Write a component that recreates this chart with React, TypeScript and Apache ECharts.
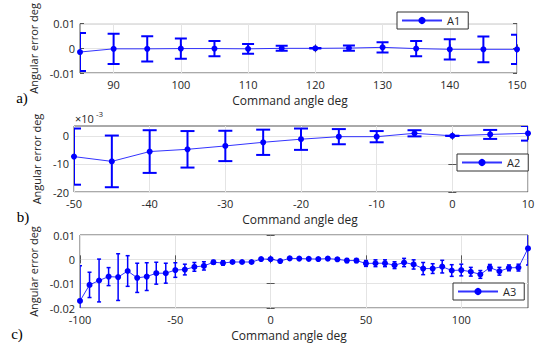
import React, { useEffect, useRef } from "react";
import * as echarts from "echarts";

// ---- Panel a) ----
const xA = [85, 90, 95, 100, 105, 110, 115, 120, 125, 130, 135, 140, 145, 150];
const yA = [-0.0015, -0.0002, -0.0002, -0.0001, -0.0001, -0.0002, 0, 0, 0.0001, 0.0004, -0.0001, -0.0004, -0.0004, -0.0004];
const eA = [0.0077, 0.0061, 0.0051, 0.0041, 0.0031, 0.002, 0.001, 0.0001, 0.0011, 0.0021, 0.0031, 0.0041, 0.0052, 0.0059];
const xTicksA = [90, 100, 110, 120, 130, 140, 150];
const yTicksA = [-0.01, 0, 0.01];

// ---- Panel b) (values in units of 1e-3 deg) ----
const xB = [-50, -45, -40, -35, -30, -25, -20, -15, -10, -5, 0, 5, 10];
const yB = [-7.4, -9.1, -5.6, -4.8, -3.6, -2.3, -1.2, -0.3, -0.3, 0.9, 0, 0.5, 0.9];
const eB = [10, 9.2, 7.6, 6.5, 5.4, 4.5, 3.8, 2.7, 2.0, 1.1, 0, 1.6, 2.6];
const xTicksB = [-50, -40, -30, -20, -10, 0, 10];
const yTicksB = [-20, -10, 0];

// ---- Panel c) ----
const xC = [
  -100, -95, -90, -85, -80, -75, -70, -65, -60, -55, -50, -45, -40, -35, -30, -25,
  -20, -15, -10, -5, 0, 5, 10, 15, 20, 25, 30, 35, 40, 45, 50, 55,
  60, 65, 70, 75, 80, 85, 90, 95, 100, 105, 110, 115, 120, 125, 130, 135,
];
const yC = [
  -0.0171, -0.0105, -0.0087, -0.0071, -0.0073, -0.0048, -0.0076, -0.0071, -0.0057, -0.0057, -0.0044, -0.0042, -0.0031, -0.0027, -0.0012, -0.0015,
  -0.0011, -0.0011, -0.0011, 0.0001, 0.0001, -0.0007, 0.0004, 0.0003, 0.0002, 0.0001, 0.0003, 0.0, -0.0005, -0.0005, -0.0017, -0.0016,
  -0.0016, -0.0024, -0.0013, -0.0021, -0.0038, -0.0038, -0.003, -0.0046, -0.0044, -0.0051, -0.0062, -0.0034, -0.0049, -0.0035, -0.0034, 0.0045,
];
const eC = [
  0.0145, 0.0052, 0.0088, 0.0037, 0.0096, 0.0063, 0.006, 0.0057, 0.0045, 0.0041, 0.003, 0.0022, 0.0018, 0.0017, 0.0008, 0.0009,
  0.0004, 0.0003, 0.0003, 0.0002, 0.0002, 0.0002, 0.0003, 0.0002, 0.0002, 0.0003, 0.0005, 0.0005, 0.0008, 0.0008, 0.0012, 0.0014,
  0.0014, 0.0014, 0.0017, 0.0019, 0.0025, 0.002, 0.0026, 0.0024, 0.0024, 0.0018, 0.0016, 0.0013, 0.0016, 0.0012, 0.0014, 0.0068,
];
const xTicksC = [-100, -50, 0, 50, 100];
const yTicksC = [-0.02, -0.01, 0, 0.01];

const FONT = "'Open Sans', sans-serif";
const TXT = "#262626";
const FRAME = "#555555";
const BLUE = "#0000ff";

function errRender(cap: number, lw: number) {
  return (params: any, api: any) => {
    const x = api.value(0);
    const y = api.value(1);
    const e = api.value(2);
    const t = api.coord([x, y + e]);
    const b = api.coord([x, y - e]);
    const h = cap / 2;
    const st = { stroke: BLUE, lineWidth: lw };
    return {
      type: "group",
      children: [
        { type: "line", shape: { x1: t[0], y1: t[1], x2: b[0], y2: b[1] }, style: st },
        { type: "line", shape: { x1: t[0] - h, y1: t[1], x2: t[0] + h, y2: t[1] }, style: st },
        { type: "line", shape: { x1: b[0] - h, y1: b[1], x2: b[0] + h, y2: b[1] }, style: st },
      ],
    };
  };
}

function mainX(grid: number, min: number, max: number, ticks: number[]) {
  return {
    type: "value",
    gridIndex: grid,
    min,
    max,
    axisLine: { show: false },
    axisTick: { show: true, inside: true, length: 4, customValues: ticks, lineStyle: { color: FRAME } },
    axisLabel: { customValues: ticks, fontSize: 11, color: TXT, fontFamily: FONT, margin: 6 },
    splitLine: { show: true, lineStyle: { color: "#e4e4e4", width: 1 } },
  };
}
function topX(grid: number, min: number, max: number, ticks: number[]) {
  return {
    type: "value",
    gridIndex: grid,
    position: "top",
    min,
    max,
    axisLine: { show: false },
    axisTick: { show: true, inside: true, length: 4, customValues: ticks, lineStyle: { color: FRAME } },
    axisLabel: { show: false },
    splitLine: { show: false },
  };
}
function mainY(grid: number, min: number, max: number, ticks: number[], gap: number) {
  return {
    type: "value",
    gridIndex: grid,
    min,
    max,
    name: "Angular error deg",
    nameLocation: "middle",
    nameGap: gap,
    nameTextStyle: { fontSize: 11, color: TXT, fontFamily: FONT },
    axisLine: { show: false },
    axisTick: { show: true, inside: true, length: 4, customValues: ticks, lineStyle: { color: FRAME } },
    axisLabel: { customValues: ticks, fontSize: 11, color: TXT, fontFamily: FONT, margin: 5 },
    splitLine: { show: true, lineStyle: { color: "#e4e4e4", width: 1 } },
  };
}
function rightY(grid: number, min: number, max: number, ticks: number[]) {
  return {
    type: "value",
    gridIndex: grid,
    position: "right",
    min,
    max,
    axisLine: { show: false },
    axisTick: { show: true, inside: true, length: 4, customValues: ticks, lineStyle: { color: FRAME } },
    axisLabel: { show: false },
    splitLine: { show: false },
  };
}

function lineSeries(name: string, xs: number[], ys: number[], axis: number) {
  return {
    type: "line",
    name,
    xAxisIndex: axis,
    yAxisIndex: axis,
    data: xs.map((x, i) => [x, ys[i]]),
    symbol: "circle",
    symbolSize: 6,
    color: BLUE,
    lineStyle: { color: BLUE, width: 1, opacity: 0.8 },
    itemStyle: { color: BLUE },
    z: 3,
  };
}
function errSeries(xs: number[], ys: number[], es: number[], axis: number, cap: number, lw: number) {
  return {
    type: "custom",
    name: "err" + axis,
    xAxisIndex: axis,
    yAxisIndex: axis,
    clip: true,
    renderItem: errRender(cap, lw),
    encode: { x: 0, y: 1 },
    data: xs.map((x, i) => [x, ys[i], es[i]]),
    z: 2,
  };
}

function legendBox(name: string, left: number, top: number) {
  return {
    data: [name],
    left,
    top,
    orient: "horizontal",
    itemWidth: 40,
    itemHeight: 9,
    itemGap: 5,
    padding: [3, 8, 3, 4],
    borderColor: "#333",
    borderWidth: 1,
    borderRadius: 0,
    backgroundColor: "#fff",
    textStyle: { fontSize: 11, color: TXT, fontFamily: FONT },
  };
}

function txt(text: string, x: number, y: number, size: number, extra: any = {}) {
  return {
    type: "text",
    x,
    y,
    z: 100,
    ...extra,
    style: {
      text,
      fontSize: size,
      fontFamily: FONT,
      fill: TXT,
      align: "center",
      verticalAlign: "middle",
      ...(extra.style || {}),
    },
  };
}

export default function App() {
  const ref = useRef<HTMLDivElement>(null);
  useEffect(() => {
    if (!ref.current) return;
    const chart = echarts.init(ref.current, null, { renderer: "svg" });
    const gridBase = { show: true, borderColor: FRAME, borderWidth: 1, backgroundColor: "#fff", containLabel: false };
    chart.setOption({
      animation: false,
      backgroundColor: "#ffffff",
      grid: [
        { ...gridBase, left: 80, right: 30, top: 12, height: 61 },
        { ...gridBase, left: 74, right: 19, top: 126, height: 66 },
        { ...gridBase, left: 80, right: 19, top: 235, height: 73 },
      ],
      xAxis: [
        mainX(0, 85, 150, xTicksA),
        mainX(1, -50, 10, xTicksB),
        mainX(2, -100, 135, xTicksC),
        topX(0, 85, 150, xTicksA),
        topX(1, -50, 10, xTicksB),
        topX(2, -100, 135, xTicksC),
      ],
      yAxis: [
        mainY(0, -0.01, 0.01, yTicksA, 35),
        mainY(1, -20, 3.5, yTicksB, 29),
        mainY(2, -0.02, 0.01, yTicksC, 37),
        rightY(0, -0.01, 0.01, yTicksA),
        rightY(1, -20, 3.5, yTicksB),
        rightY(2, -0.02, 0.01, yTicksC),
      ],
      legend: [legendBox("A1", 397, 12), legendBox("A2", 457, 154), legendBox("A3", 453, 283)],
      series: [
        errSeries(xA, yA, eA, 0, 12, 2),
        lineSeries("A1", xA, yA, 0),
        errSeries(xB, yB, eB, 1, 14, 2),
        lineSeries("A2", xB, yB, 1),
        errSeries(xC, yC, eC, 2, 4, 1.5),
        lineSeries("A3", xC, yC, 2),
      ],
      graphic: [
        txt("Command angle deg", 290, 100, 12),
        txt("Command angle deg", 300, 219, 12),
        txt("Command angle deg", 289, 335, 12),
        txt("a)", 22, 98, 15, { style: { fontFamily: "'Liberation Serif', serif", fill: "#000" } }),
        txt("b)", 23, 217, 15, { style: { fontFamily: "'Liberation Serif', serif", fill: "#000" } }),
        txt("c)", 17, 334, 15, { style: { fontFamily: "'Liberation Serif', serif", fill: "#000" } }),
        txt("×10", 75, 118, 11, { style: { align: "left" } }),
        txt("-3", 96, 113, 8, { style: { align: "left" } }),
      ],
    });
    return () => chart.dispose();
  }, []);
  return (
    <div
      ref={ref}
      style={{ position: "fixed", left: 0, top: 0, width: 547, height: 343, background: "#fff" }}
    />
  );
}
